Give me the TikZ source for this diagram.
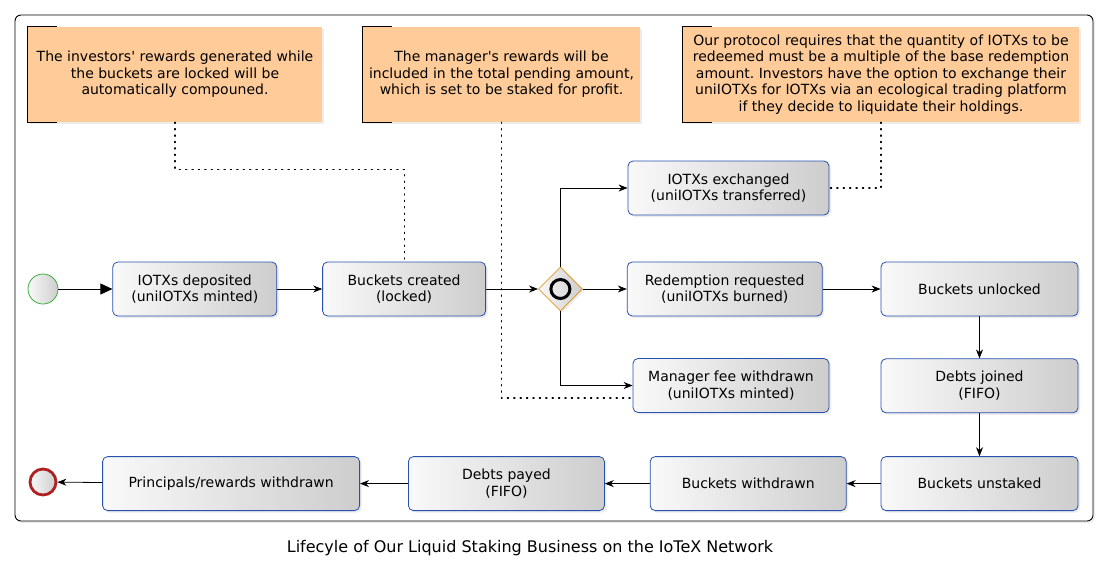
\documentclass[tikz,border=0pt]{standalone}
\usepackage{fontspec}
\setmainfont{DejaVu Sans}
\usepackage{tikz}
\usetikzlibrary{positioning, arrows.meta, shapes.geometric, shadows}
\definecolor{taskblue}{RGB}{40,80,175}
\definecolor{notefill}{RGB}{255,204,153}
\definecolor{gworange}{RGB}{225,155,45}
\definecolor{startgreen}{RGB}{60,175,60}
\definecolor{endred}{RGB}{175,32,32}
\definecolor{shlight}{RGB}{249,249,249}
\definecolor{shdark}{RGB}{205,205,205}
\frenchspacing

\begin{document}
\begin{tikzpicture}[x=1pt, y=-1pt,
	font=\fontsize{14}{16.5}\selectfont,
	shad/.style={drop shadow={shadow xshift=2pt, shadow yshift=-2pt, opacity=0.15}},
	task/.style={rectangle, rounded corners=5pt, draw=taskblue, line width=0.8pt,
		left color=shlight, right color=shdark, align=center,
		minimum height=54pt, inner sep=0pt, shad},
	note/.style={rectangle, fill=notefill, align=center,
		minimum height=95pt, inner sep=0pt, shad},
	gate/.style={diamond, draw=gworange, line width=0.8pt, left color=shlight,
		right color=shdark, minimum width=44pt, minimum height=44pt, inner sep=0pt, shad},
	startev/.style={circle, draw=startgreen, line width=0.8pt, left color=shlight,
		right color=shdark, minimum size=30pt, inner sep=0pt},
	endev/.style={circle, draw=endred, line width=2.8pt, left color=shlight,
		right color=shdark, minimum size=26pt, inner sep=0pt},
	flow/.style={-{Stealth[length=9pt, width=7pt]}, line width=0.8pt},
	assoc/.style={line width=1.2pt, dash pattern=on 1.2pt off 5.2pt, line cap=round}]
	\useasboundingbox (0,0) rectangle (1108,579);
	% frame
	\draw[rounded corners=6pt, line width=0.9pt, fill=white, shad] (15,15) rectangle (1093,521);

	% annotations
	\node[note, minimum width=294pt] (n1) at (175,74.5)
		{The investors\textquotesingle{} rewards generated while\\the buckets are locked will be\\automatically compouned.};
	\node[note, minimum width=277pt] (n2) at (501.5,74.5)
		{The manager\textquotesingle s rewards will be\\included in the total pending amount,\\which is set to be staked for profit.};
	\node[note, minimum width=396pt] (n3) at (881,74.5)
		{Our protocol requires that the quantity of IOTXs to be\\redeemed must be a multiple of the base redemption\\amount. Investors have the option to exchange their\\uniIOTXs for IOTXs via an ecological trading platform\\if they decide to liquidate their holdings.};
	\foreach \n in {n1,n2,n3}
		\draw[line width=0.9pt] ([xshift=29pt]\n.north west) -| (\n.south west) -- ([xshift=29pt]\n.south west);

	% main flow
	\node[startev] (start) at (43,289) {};
	\node[task, minimum width=164pt, right=54pt of start] (dep) {IOTXs deposited\\(uniIOTXs minted)};
	\node[task, minimum width=163pt, right=45pt of dep] (cre) {Buckets created\\(locked)};
	\node[gate, right=52pt of cre] (gw) {};
	\draw[line width=3pt] (gw) circle (9.5pt);
	\node[task, minimum width=195pt, right=44pt of gw] (red) {Redemption requested\\(uniIOTXs burned)};
	\node[task, minimum width=197pt, right=58pt of red] (unl) {Buckets unlocked};
	\node[task, minimum width=201pt] (exch) at (728.5,188) {IOTXs exchanged\\(uniIOTXs transferred)};
	\node[task, minimum width=196pt] (mgr) at (731,385.5) {Manager fee withdrawn\\(uniIOTXs minted)};
	\node[task, minimum width=197pt, below=42pt of unl] (joi) {Debts joined\\(FIFO)};
	\node[task, minimum width=197pt, below=43pt of joi] (uns) {Buckets unstaked};
	\node[task, minimum width=196pt, left=34pt of uns] (wdr) {Buckets withdrawn};
	\node[task, minimum width=196pt, left=45pt of wdr] (pay) {Debts payed\\(FIFO)};
	\node[task, minimum width=257pt, left=48pt of pay] (pri) {Principals/rewards withdrawn};
	\node[endev] (end) at (43,482) {};

	\draw[-{Triangle[length=12pt, width=11pt]}, line width=0.8pt] (start) -- (dep);
	\draw[flow] (dep) -- (cre);
	\draw[flow] (cre) -- (gw);
	\draw[flow] (gw.north) |- (exch.west);
	\draw[flow] (gw) -- (red);
	\draw[flow] (gw.south) |- (mgr.west);
	\draw[flow] (red) -- (unl);
	\draw[flow] (unl) -- (joi);
	\draw[flow] (joi) -- (uns);
	\draw[flow] (uns) -- (wdr);
	\draw[flow] (wdr) -- (pay);
	\draw[flow] (pay) -- (pri);
	\draw[flow] (pri) -- (end);

	% associations
	\draw[assoc] (n1.south) -- ++(0,47) -| (cre.north);
	\draw[assoc] (n2.south) |- ([yshift=-12.5pt]mgr.west);
	\draw[assoc] (n3.south) |- (exch.east);

	\node[font=\fontsize{16}{19}\selectfont] (cap) at (530,548) {Lifecyle of Our Liquid Staking Business on the IoTeX Network};
\end{tikzpicture}
\end{document}
